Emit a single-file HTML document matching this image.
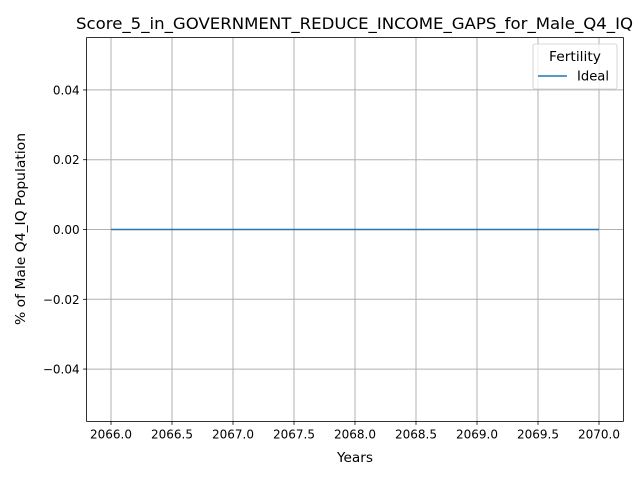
<!DOCTYPE html>
<html><head><meta charset="utf-8"><style>
body{margin:0;background:#fff;}
svg text{font-family:"DejaVu Sans","Liberation Sans",sans-serif;fill:#000;}
</style></head><body>
<svg id="chart" width="640" height="480" xmlns="http://www.w3.org/2000/svg">
<rect width="640" height="480" fill="#fff"/>
<g id="grid"></g>
<g id="series"></g>
<rect x="86.6" y="37.6" width="536.8" height="383.8" fill="none" stroke="#000" stroke-width="0.8"/>
<g id="ticks"></g>
<text x="76" y="29" font-size="16" textLength="557" lengthAdjust="spacingAndGlyphs">Score_5_in_GOVERNMENT_REDUCE_INCOME_GAPS_for_Male_Q4_IQ</text>
<text x="337" y="462" font-size="13" textLength="36" lengthAdjust="spacingAndGlyphs">Years</text>
<text transform="translate(25,325) rotate(-90)" font-size="13.5" textLength="192" lengthAdjust="spacingAndGlyphs">% of Male Q4_IQ Population</text>
<g>
<rect x="533" y="44" width="84" height="45" rx="2" fill="#fff" fill-opacity="0.8" stroke="#ccc" stroke-width="0.8"/>
<text x="549" y="61" font-size="13" textLength="52" lengthAdjust="spacingAndGlyphs">Fertility</text>
<line x1="538" y1="76" x2="567" y2="76" stroke="#1f77b4" stroke-width="1.5"/>
<text x="577" y="80.5" font-size="13" textLength="32" lengthAdjust="spacingAndGlyphs">Ideal</text>
</g>
</svg>
<script>
const years=[2066,2067,2068,2069,2070];
const ideal=[0,0,0,0,0];
const xTicks=[2066,2066.5,2067,2067.5,2068,2068.5,2069,2069.5,2070];
const yTicks=[-0.04,-0.02,0,0.02,0.04];
const NS="http://www.w3.org/2000/svg";
const L=86.6,R=623.4,T=37.6,B=421.4;
function sx(v){return L+(v-2065.8)/(4.4)*(R-L);}
function sy(v){return B-(v+0.055)/0.11*(B-T);}
function mk(tag,attrs,parent){const e=document.createElementNS(NS,tag);for(const k in attrs)e.setAttribute(k,attrs[k]);parent.appendChild(e);return e;}
const grid=document.getElementById('grid'),ticks=document.getElementById('ticks'),ser=document.getElementById('series');
xTicks.forEach(v=>{const x=sx(v);
const g=mk('line',{x1:x,x2:x,y1:T,y2:B,stroke:'#b0b0b0','stroke-width':1},grid);


const t=mk('line',{x1:x,x2:x,y1:B,y2:B+3.5,stroke:'#000','stroke-width':0.8},ticks);


const l=mk('text',{x:x,y:B+17,'font-size':12,'text-anchor':'middle'},ticks);l.textContent=v.toFixed(1);

});
yTicks.forEach(v=>{const y=sy(v);
const g=mk('line',{x1:L,x2:R,y1:y,y2:y,stroke:'#b0b0b0','stroke-width':1},grid);


const t=mk('line',{x1:L-3.5,x2:L,y1:y,y2:y,stroke:'#000','stroke-width':0.8},ticks);


const l=mk('text',{x:L-7,y:y+4.5,'font-size':12,'text-anchor':'end'},ticks);l.textContent=(v<0?'\u2212':'')+Math.abs(v).toFixed(2);

});
const p=mk('polyline',{points:years.map((y,i)=>sx(y)+','+sy(ideal[i])).join(' '),fill:'none',stroke:'#1f77b4','stroke-width':1.5},ser);


</script>
</body></html>
